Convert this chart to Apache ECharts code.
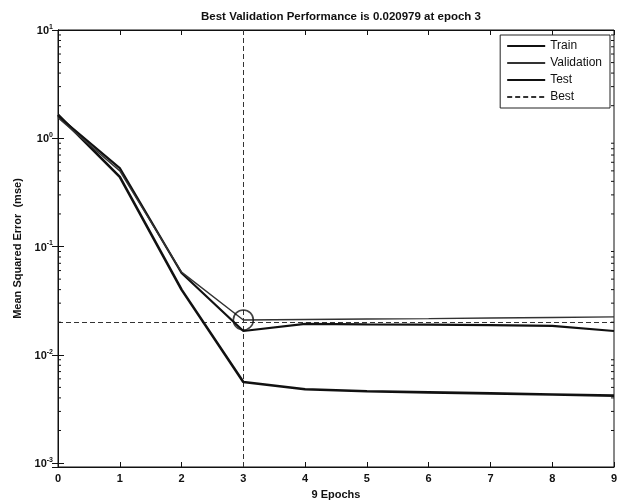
<!DOCTYPE html>
<html><head><meta charset="utf-8">
<script src="https://cdn.jsdelivr.net/npm/echarts@6/dist/echarts.min.js"></script>
<style>html,body{margin:0;padding:0;background:#fff}#c{width:624px;height:500px}</style>
</head><body><div id="c"></div>
<script>
var epochs = [0, 1, 2, 3, 4, 5, 6, 7, 8, 9];
var train = [1.65, 0.44, 0.040, 0.0056, 0.0048, 0.0046, 0.0045, 0.0044, 0.0043, 0.0042];
var validation = [1.55, 0.50, 0.058, 0.020979, 0.0212, 0.0214, 0.0216, 0.0219, 0.0221, 0.0224];
var test = [1.6, 0.53, 0.057, 0.0166, 0.0193, 0.0191, 0.019, 0.0188, 0.0185, 0.0166];
var bestEpoch = 3;
var bestValue = 0.020979;
var yMin = 0.00092;
var yMax = 10;
var titleText = 'Best Validation Performance is 0.020979 at epoch 3';
var xName = '9 Epochs';
var yName = 'Mean Squared Error  (mse)';

var FONT = '"Liberation Sans", Arial, sans-serif';
function pairs(arr){ return epochs.map(function(e,i){ return [e, arr[i]]; }); }
var minorVals = [];
for (var k = -3; k < 1; k++) for (var m = 2; m <= 9; m++) minorVals.push([0, m * Math.pow(10, k)]);

var yLabel = {
  fontFamily: FONT, color: '#111', margin: 5, showMinLabel: false,
  formatter: function(v){ var e = Math.round(Math.log10(v)); return '{b|10}{s|' + e + '}'; },
  rich: { b: { fontSize: 11, fontFamily: FONT, fontWeight: 'bold', color: '#111', verticalAlign: 'bottom' },
          s: { fontSize: 7, fontFamily: FONT, fontWeight: 'bold', color: '#111', verticalAlign: 'bottom', padding: [0, 0, 6, 0] } }
};

var chart = echarts.init(document.getElementById('c'), null, {renderer: 'canvas'});
chart.setOption({
  animation: false,
  backgroundColor: '#fff',
  title: { text: titleText, left: 336, textAlign: 'center', top: 6,
           textStyle: { fontFamily: FONT, fontSize: 11.5, fontWeight: 'bold', color: '#111' } },
  grid: { left: 58, right: 10, top: 30, bottom: 33, show: true, borderColor: '#111', borderWidth: 1, backgroundColor: '#fff',
          containLabel: false, outerBoundsMode: 'none' },
  legend: {
    data: ['Train', 'Validation', 'Test', 'Best'],
    orient: 'vertical', right: 14, top: 35, padding: [5, 8, 5, 6],
    borderColor: '#222', borderWidth: 1, backgroundColor: '#fff',
    itemWidth: 38, itemHeight: 12, itemGap: 5,
    itemStyle: { opacity: 0 },
    textStyle: { fontFamily: FONT, fontSize: 12, color: '#111' }
  },
  xAxis: [{
    type: 'value', min: 0, max: 9, interval: 1,
    name: xName, nameLocation: 'middle', nameGap: 22,
    nameTextStyle: { fontFamily: FONT, fontSize: 11, fontWeight: 'bold', color: '#111' },
    axisLine: { show: true, onZero: false, lineStyle: { color: '#111', width: 1 } },
    axisTick: { show: true, inside: true, length: 5, lineStyle: { color: '#111' } },
    axisLabel: { fontFamily: FONT, fontSize: 11, fontWeight: 'bold', color: '#111', margin: 6 },
    splitLine: { show: false }
  }, {
    type: 'value', min: 0, max: 9, interval: 1, position: 'top',
    axisLine: { show: true, lineStyle: { color: '#111' } },
    axisTick: { show: true, inside: true, length: 5, lineStyle: { color: '#111' } },
    axisLabel: { show: false }, splitLine: { show: false }
  }],
  yAxis: [{
    type: 'log', logBase: 10, min: yMin, max: yMax,
    name: yName, nameLocation: 'middle', nameGap: 35,
    nameTextStyle: { fontFamily: FONT, fontSize: 11, fontWeight: 'bold', color: '#111' },
    axisLine: { show: true, onZero: false, lineStyle: { color: '#111', width: 1 } },
    axisTick: { show: true, inside: true, length: 6, lineStyle: { color: '#111' } },
    axisLabel: yLabel, splitLine: { show: false }
  }, {
    type: 'log', logBase: 10, min: yMin, max: yMax, position: 'right',
    axisLine: { show: true, lineStyle: { color: '#111' } },
    axisTick: { show: true, inside: true, length: 6, lineStyle: { color: '#111' } },
    axisLabel: { show: false }, splitLine: { show: false }
  }],
  series: [
    { name: 'Train', type: 'line', data: pairs(train), symbol: 'none', z: 5,
      lineStyle: { color: '#111', width: 2.6 }, itemStyle: { color: '#111' } },
    { name: 'Validation', type: 'line', data: pairs(validation), symbol: 'none', z: 6,
      lineStyle: { color: '#333', width: 1.4 }, itemStyle: { color: '#333' } },
    { name: 'Test', type: 'line', data: pairs(test), symbol: 'none', z: 5,
      lineStyle: { color: '#111', width: 2.2 }, itemStyle: { color: '#111' } },
    { name: 'Best', type: 'line', data: [], symbol: 'none', z: 3,
      lineStyle: { color: '#333', width: 1, type: [5, 3] }, itemStyle: { color: '#333' },
      markLine: { silent: true, symbol: 'none', label: { show: false },
        lineStyle: { color: '#333', width: 1, type: [5, 3] },
        data: [{ xAxis: bestEpoch }, { yAxis: bestValue }] } },
    { name: 'BestCircle', type: 'scatter', data: [[bestEpoch, bestValue]], symbol: 'circle', symbolSize: 20, z: 7,
      itemStyle: { color: 'rgba(0,0,0,0)', borderColor: '#111', borderWidth: 1.6 } },
    { name: 'minor', type: 'custom', data: minorVals, silent: true, z: 8,
      renderItem: function(params, api){
        var p = api.coord([0, api.value(1)]);
        var r = api.coord([9, api.value(1)]);
        return { type: 'group', children: [
          { type: 'line', shape: { x1: p[0], y1: p[1], x2: p[0] + 3, y2: p[1] }, style: { stroke: '#111', lineWidth: 1 } },
          { type: 'line', shape: { x1: r[0], y1: r[1], x2: r[0] - 3, y2: r[1] }, style: { stroke: '#111', lineWidth: 1 } }
        ]};
      } }
  ]
});
</script></body></html>
